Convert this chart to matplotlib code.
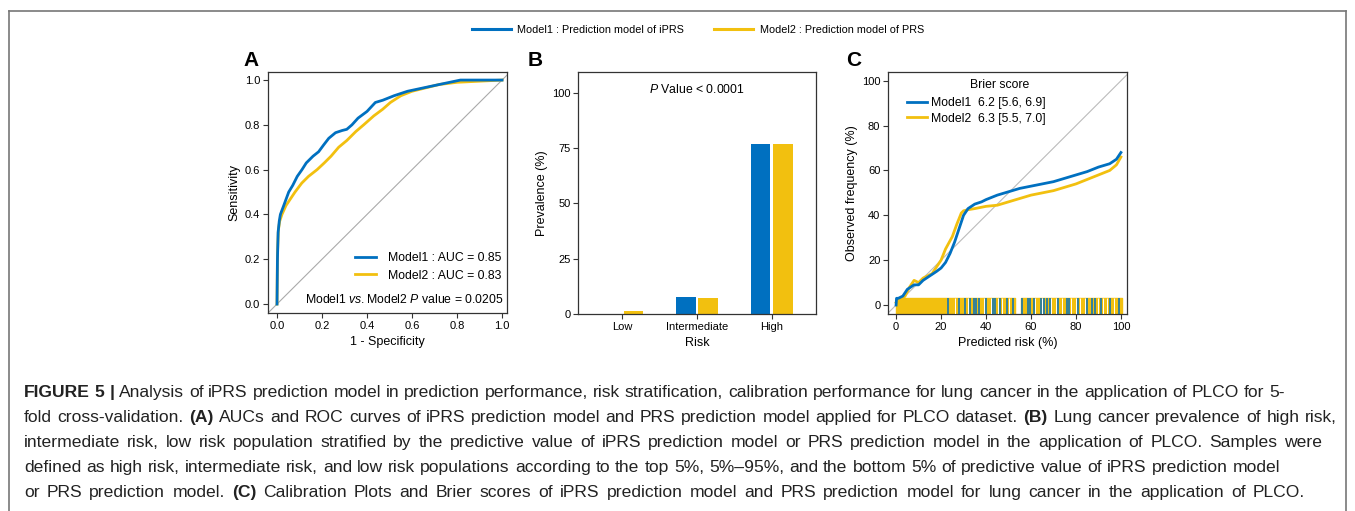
import matplotlib
matplotlib.use('Agg')
import matplotlib.pyplot as plt
from matplotlib.lines import Line2D

plt.rcParams['font.family'] = ['Liberation Sans', 'DejaVu Sans']
plt.rcParams['mathtext.fontset'] = 'custom'
plt.rcParams['mathtext.rm'] = 'Liberation Sans'
plt.rcParams['mathtext.it'] = 'Liberation Sans:italic'

BLUE = '#0070C0'
YELLOW = '#F2C00F'

# ---- panel A: ROC curves ----
roc1_fpr = [0, 0.002, 0.005, 0.01, 0.015, 0.03, 0.052, 0.07, 0.09, 0.111, 0.13, 0.16, 0.185, 0.207, 0.23, 0.26,
            0.29, 0.31, 0.333, 0.36, 0.40, 0.437, 0.47, 0.52, 0.58, 0.65, 0.72, 0.815, 0.9, 1.0]
roc1_tpr = [0, 0.2, 0.32, 0.37, 0.40, 0.44, 0.50, 0.53, 0.57, 0.60, 0.63, 0.66, 0.68, 0.71, 0.74, 0.765,
            0.775, 0.78, 0.80, 0.83, 0.86, 0.90, 0.91, 0.93, 0.95, 0.965, 0.98, 1.0, 1.0, 1.0]
roc2_fpr = [0, 0.002, 0.006, 0.012, 0.022, 0.04, 0.06, 0.08, 0.11, 0.14, 0.178, 0.21, 0.24, 0.274, 0.31, 0.35,
            0.385, 0.43, 0.47, 0.504, 0.55, 0.60, 0.66, 0.72, 0.80, 0.9, 1.0]
roc2_tpr = [0, 0.22, 0.33, 0.37, 0.40, 0.44, 0.47, 0.50, 0.54, 0.57, 0.60, 0.63, 0.66, 0.70, 0.73, 0.77,
            0.80, 0.84, 0.87, 0.90, 0.93, 0.95, 0.965, 0.98, 0.99, 0.995, 1.0]
roc_labels = ['Model1 : AUC = 0.85', 'Model2 : AUC = 0.83']

# ---- panel B: prevalence by risk group ----
risk_groups = ['Low', 'Intermediate', 'High']
prev_model1 = [0.1, 7.5, 76.8]
prev_model2 = [1.2, 7.4, 76.8]

# ---- panel C: calibration ----
cal1_x = [0, 0.2, 1, 3, 5, 8, 10, 12, 15, 18, 20, 22, 24, 26, 28, 30, 32, 35, 38, 40, 45, 50, 55, 60, 65, 70,
          75, 80, 85, 90, 95, 98, 100]
cal1_y = [0, 3, 3, 4, 7, 9, 9, 11, 13, 15, 16.5, 19, 23, 28, 34, 40, 43, 45, 46, 47, 49, 50.5, 52, 53, 54, 55,
          56.5, 58, 59.5, 61.5, 63, 65, 68]
cal2_x = [0, 2, 4, 6, 8, 10, 12, 14, 16, 18, 20, 22, 25, 27, 29, 30, 32, 35, 40, 45, 50, 55, 60, 65, 70, 75,
          80, 85, 90, 95, 98, 100]
cal2_y = [1, 2, 4, 8, 11, 10, 12, 13, 14, 17, 20, 25, 30.5, 36, 41, 42, 42.5, 43, 44, 44.5, 46, 47.5, 49, 50,
          51, 52.5, 54, 56, 58, 60, 62.5, 66]
brier_labels = ['Model1  6.2 [5.6, 6.9]', 'Model2  6.3 [5.5, 7.0]']

# rug of predicted risks (%)
rug_yellow_spans = [(0, 53), (55.5, 100.5)]
rug_blue = [23, 28, 30.5, 33, 34.5, 35.5, 37, 40, 43, 44, 46, 49.5, 52,
            56, 58.5, 59.5, 61.5, 64.5, 66, 67, 68.5, 72, 76, 77, 81, 85, 87, 88.5, 91, 95, 99]
rug_gaps = [26, 32, 39, 42, 45.5, 47, 50, 62, 65, 69, 71, 74, 78, 80, 82, 84, 90, 92, 94, 97]

caption_lines = [
    'FIGURE 5 | Analysis of iPRS prediction model in prediction performance, risk stratification, calibration performance for lung cancer in the application of PLCO for 5-',
    'fold cross-validation. (A) AUCs and ROC curves of iPRS prediction model and PRS prediction model applied for PLCO dataset. (B) Lung cancer prevalence of high risk,',
    'intermediate risk, low risk population stratified by the predictive value of iPRS prediction model or PRS prediction model in the application of PLCO. Samples were',
    'defined as high risk, intermediate risk, and low risk populations according to the top 5%, 5%\u201395%, and the bottom 5% of predictive value of iPRS prediction model',
    'or PRS prediction model. (C) Calibration Plots and Brier scores of iPRS prediction model and PRS prediction model for lung cancer in the application of PLCO.',
]
caption_ends = [1285, 1337, 1322, 1280, 1305]
bold_words = {'FIGURE', '5', '|', '(A)', '(B)', '(C)'}

W, H = 1355, 511
fig = plt.figure(figsize=(W / 100, H / 100), dpi=100)


def style_axes(ax):
    for s in ax.spines.values():
        s.set_color('#333333')
        s.set_linewidth(0.9)
    ax.tick_params(direction='out', length=3.5, width=0.8, color='#333333', labelsize=8, pad=2)


# panel A
axA = fig.add_axes([268 / W, 1 - 313 / H, 239 / W, 241 / H])
axA.plot([-0.1, 1.1], [-0.1, 1.1], color='#aaaaaa', lw=0.8, zorder=1)
axA.plot(roc2_fpr, roc2_tpr, color=YELLOW, lw=2, label=roc_labels[1], zorder=2)
axA.plot(roc1_fpr, roc1_tpr, color=BLUE, lw=2, label=roc_labels[0], zorder=3)
axA.set_xlim(-0.04, 1.022)
axA.set_ylim(-0.04, 1.036)
axA.set_xticks([0, 0.2, 0.4, 0.6, 0.8, 1.0])
axA.set_yticks([0, 0.2, 0.4, 0.6, 0.8, 1.0])
axA.set_xticklabels(['0.0', '0.2', '0.4', '0.6', '0.8', '1.0'])
axA.set_yticklabels(['0.0', '0.2', '0.4', '0.6', '0.8', '1.0'])
axA.set_xlabel('1 - Specificity', fontsize=9, labelpad=4)
axA.set_ylabel('Sensitivity', fontsize=9, labelpad=3)
style_axes(axA)
hA = [Line2D([], [], color=BLUE, lw=2), Line2D([], [], color=YELLOW, lw=2)]
axA.legend(hA, roc_labels, loc='lower left', bbox_to_anchor=(0.32, 0.085), frameon=False,
           fontsize=8.8, handlelength=1.7, handletextpad=1.0, labelspacing=0.45)
axA.text(0.985, 0.055, 'Model1 $\\it{vs.}$Model2 $\\it{P}$ value = 0.0205', transform=axA.transAxes,
         ha='right', va='center', fontsize=8.8)
fig.text(243 / W, 1 - 60 / H, 'A', fontsize=15, fontweight='bold', va='center', ha='left')

# panel B
axB = fig.add_axes([578 / W, 1 - 314 / H, 238 / W, 242 / H])
xpos = list(range(len(risk_groups)))
bw = 0.26
axB.bar([x - 0.15 for x in xpos], prev_model1, width=bw, color=BLUE)
axB.bar([x + 0.15 for x in xpos], prev_model2, width=bw, color=YELLOW)
axB.set_xlim(-0.587, 2.587)
axB.set_ylim(0, 109.5)
axB.set_yticks([0, 25, 50, 75, 100])
axB.set_xticks(xpos)
axB.set_xticklabels(risk_groups)
axB.set_xlabel('Risk', fontsize=9, labelpad=4)
axB.set_ylabel('Prevalence (%)', fontsize=9, labelpad=3)
style_axes(axB)
axB.text(1.0, 101.5, '$\\it{P}$ Value < 0.0001', ha='center', va='center', fontsize=8.8)
fig.text(528 / W, 1 - 60 / H, 'B', fontsize=15, fontweight='bold', va='center', ha='left')

# panel C
axC = fig.add_axes([888 / W, 1 - 314 / H, 239 / W, 242 / H])
axC.plot([-10, 110], [-10, 110], color='#bbbbbb', lw=0.8, zorder=1)
axC.broken_barh([(a, b - a) for a, b in rug_yellow_spans], (-5, 8), color=YELLOW, zorder=2)
axC.vlines(rug_blue, -5, 3, color=BLUE, lw=1.1, zorder=3)
axC.vlines(rug_gaps, -5, 3, color='white', lw=0.7, zorder=3)
axC.plot(cal2_x, cal2_y, color=YELLOW, lw=2, zorder=4)
axC.plot(cal1_x, cal1_y, color=BLUE, lw=2, zorder=5)
axC.set_xlim(-3.6, 102.7)
axC.set_ylim(-4, 103.9)
axC.set_xticks([0, 20, 40, 60, 80, 100])
axC.set_yticks([0, 20, 40, 60, 80, 100])
axC.set_xlabel('Predicted risk (%)', fontsize=9, labelpad=4)
axC.set_ylabel('Observed frequency (%)', fontsize=9, labelpad=3)
style_axes(axC)
hC = [Line2D([], [], color=BLUE, lw=2), Line2D([], [], color=YELLOW, lw=2)]
axC.legend(hC, brier_labels, loc='upper left', bbox_to_anchor=(0.05, 0.925),
           frameon=False, fontsize=8.8, handlelength=1.6, handletextpad=0.3,
           labelspacing=0.25, borderaxespad=0.2)
axC.text(0.469, 0.946, 'Brier score', transform=axC.transAxes, ha='center', va='center', fontsize=8.8)
fig.text(846 / W, 1 - 60 / H, 'C', fontsize=15, fontweight='bold', va='center', ha='left')

# top shared legend
hTop = [Line2D([], [], color=BLUE, lw=2.2), Line2D([], [], color=YELLOW, lw=2.2)]
fig.legend(hTop, ['Model1 : Prediction model of iPRS', 'Model2 : Prediction model of PRS'],
           loc='center', bbox_to_anchor=(698 / W, 1 - 30 / H), ncol=2, frameon=False, fontsize=7.8,
           handlelength=3.6, handletextpad=0.6, columnspacing=2.8)

# outer frame
for xs, ys in [([9, 9], [H, 11]), ([9, 1346], [11, 11]), ([1346, 1346], [11, H])]:
    fig.add_artist(Line2D([x / W for x in xs], [1 - y / H for y in ys],
                          color='#777777', lw=1.2, transform=fig.transFigure))

# caption, justified word by word
renderer = fig.canvas.get_renderer()
x_start = 24
for i, line in enumerate(caption_lines):
    baseline = 397 + 25 * i
    words = line.split(' ')
    texts = []
    for w in words:
        t = fig.text(0, 1 - baseline / H, w, fontsize=12.6, va='baseline', ha='left',
                     fontweight='bold' if w in bold_words else 'normal', color='#222222')
        texts.append(t)
    widths = [t.get_window_extent(renderer).width for t in texts]
    gap = (caption_ends[i] - x_start - sum(widths)) / (len(words) - 1)
    x = x_start
    for t, wd in zip(texts, widths):
        t.set_x(x / W)
        x += wd + gap

fig.savefig('out.png', dpi=100)
